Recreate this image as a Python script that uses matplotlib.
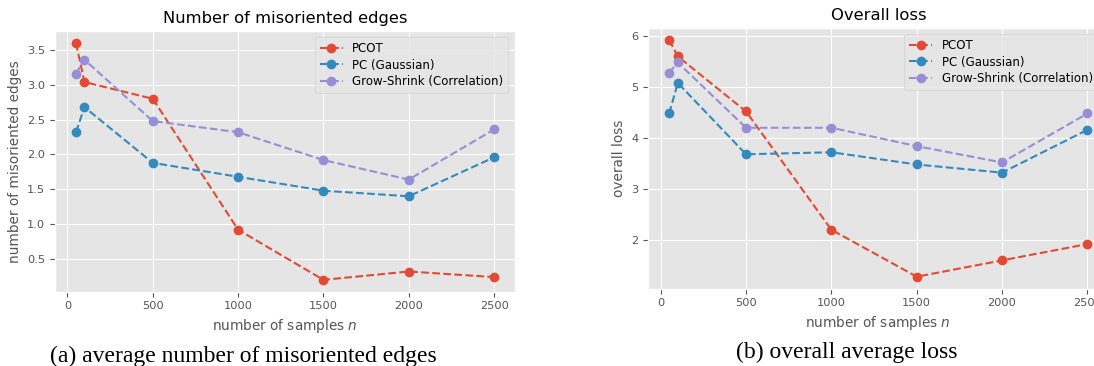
import matplotlib
matplotlib.use("Agg")
import matplotlib.pyplot as plt

plt.style.use('ggplot')

# sample sizes used in the experiments
n_samples = [50, 100, 500, 1000, 1500, 2000, 2500]
methods = ['PCOT', 'PC (Gaussian)', 'Grow-Shrink (Correlation)']

# (a) average number of misoriented edges
mis_pcot = [3.60, 3.04, 2.80, 0.92, 0.20, 0.32, 0.24]
mis_pc = [2.32, 2.68, 1.88, 1.68, 1.48, 1.40, 1.96]
mis_gs = [3.16, 3.36, 2.48, 2.32, 1.92, 1.64, 2.36]

# (b) overall average loss
loss_pcot = [5.92, 5.60, 4.52, 2.20, 1.28, 1.60, 1.92]
loss_pc = [4.48, 5.08, 3.68, 3.72, 3.48, 3.32, 4.16]
loss_gs = [5.28, 5.48, 4.20, 4.20, 3.84, 3.52, 4.48]

base = 8.2
plt.rcParams['font.size'] = base

fig = plt.figure(figsize=(10.94, 3.66), dpi=100)
ax1 = fig.add_axes([0.0503, 0.203, 0.4205, 0.7117])
ax2 = fig.add_axes([0.5926, 0.2117, 0.4205, 0.7112])

panels = [
    (ax1, [mis_pcot, mis_pc, mis_gs], 'Number of misoriented edges', 'number of misoriented edges', 1),
    (ax2, [loss_pcot, loss_pc, loss_gs], 'Overall loss', 'overall loss', 5),
]

for ax, series, title, ylabel, shift in panels:
    for vals, name in zip(series, methods):
        ax.plot(n_samples, vals, 'o--', label=name, markersize=6)
    ax.set_title(title, fontsize=base * 1.44)
    ax.set_xlabel('number of samples $n$', fontsize=base * 1.2)
    ax.set_ylabel(ylabel, fontsize=base * 1.2)
    ax.set_xticks([0, 500, 1000, 1500, 2000, 2500])
    ax.tick_params(labelsize=base)
    # legend nudged a few pixels left of the axes corner
    ax.legend(loc='upper right', bbox_to_anchor=(1 - shift / 460, 1),
              fontsize=base * 1.03, labelspacing=0.32)

ax1.set_yticks([0.5, 1.0, 1.5, 2.0, 2.5, 3.0, 3.5])
ax2.set_yticks([2, 3, 4, 5, 6])

# subfigure captions
fig.text(243.5 / 1094, 1 - 356 / 366, '(a) average number of misoriented edges',
         family='Liberation Serif', fontsize=17, ha='center', va='center')
fig.text(847 / 1094, 1 - 352 / 366, '(b) overall average loss',
         family='Liberation Serif', fontsize=17, ha='center', va='center')

fig.savefig('out.png', dpi=100)
